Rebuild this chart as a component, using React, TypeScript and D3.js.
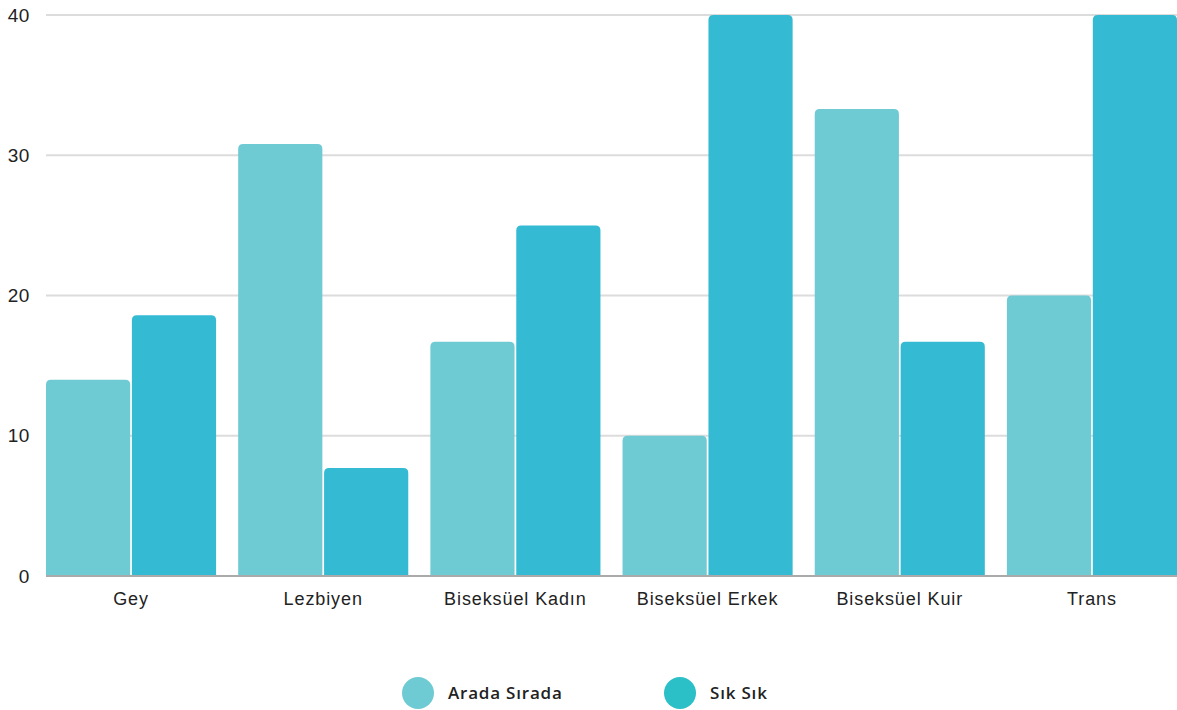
import React from "react";
import * as d3 from "d3";

const categories = ["Gey", "Lezbiyen", "Biseksüel Kadın", "Biseksüel Erkek", "Biseksüel Kuir", "Trans"];
const seriesNames = ["Arada Sırada", "Sık Sık"];
const aradaSirada = [14, 30.8, 16.7, 10, 33.3, 20];
const sikSik = [18.6, 7.7, 25, 40, 16.7, 40];
const yTicks = [0, 10, 20, 30, 40];

const barColors = ["#6ECBD4", "#35BAD4"];
const legendColors = ["#6FCBD3", "#2BBFC7"];

const W = 1177, H = 710;
const left = 46, right = 1177, top = 15, bottom = 576;

function roundTopRect(x: number, y: number, w: number, h: number, r: number) {
  const rr = Math.min(r, h / 2, w / 2);
  return `M${x},${y + h}V${y + rr}Q${x},${y} ${x + rr},${y}H${x + w - rr}Q${x + w},${y} ${x + w},${y + rr}V${y + h}Z`;
}

export default function App() {
  const x0 = d3.scaleBand<string>().domain(categories).range([left, right]).paddingInner(0.115).paddingOuter(0);
  const x1 = d3.scaleBand<string>().domain(seriesNames).range([0, x0.bandwidth()]).paddingInner(0.02);
  const y = d3.scaleLinear().domain([0, 40]).range([bottom, top]);
  const series = [aradaSirada, sikSik];
  const font = "'Liberation Sans', Arial, sans-serif";

  return (
    <svg width={W} height={H} style={{ position: "absolute", left: 0, top: 0, display: "block" }}>
      <rect width={W} height={H} fill="#fff" />
      {yTicks.map((t) => (
        <g key={t}>
          {t > 0 && <line x1={left} x2={right} y1={y(t)} y2={y(t)} stroke="#dcdcdc" strokeWidth={2} />}
          <text x={30} y={y(t)} dy="0.35em" textAnchor="end" fontFamily={font} fontSize={19} letterSpacing={0.6} fill="#222">{t}</text>
        </g>
      ))}
      {categories.map((c, i) => (
        <g key={c}>
          {series.map((s, j) => {
            const bx = (x0(c) as number) + (x1(seriesNames[j]) as number);
            const by = y(s[i]);
            return <path key={j} d={roundTopRect(bx, by, x1.bandwidth(), bottom - by, 5)} fill={barColors[j]} />;
          })}
          <text x={(x0(c) as number) + x0.bandwidth() / 2} y={598.5} dy="0.35em" textAnchor="middle" fontFamily={font} fontSize={18} letterSpacing={0.9} fill="#222">{c}</text>
        </g>
      ))}
      <line x1={left} x2={right} y1={bottom} y2={bottom} stroke="#aaaaaa" strokeWidth={2} />
      {seriesNames.map((n, j) => {
        const cx = j === 0 ? 418 : 680;
        return (
          <g key={n}>
            <circle cx={cx} cy={693} r={16} fill={legendColors[j]} />
            <text x={cx + 30} y={693} dy="0.35em" fontFamily="'Open Sans', sans-serif" fontWeight={600} fontSize={17} letterSpacing={0.8} fill="#222">{n}</text>
          </g>
        );
      })}
    </svg>
  );
}
